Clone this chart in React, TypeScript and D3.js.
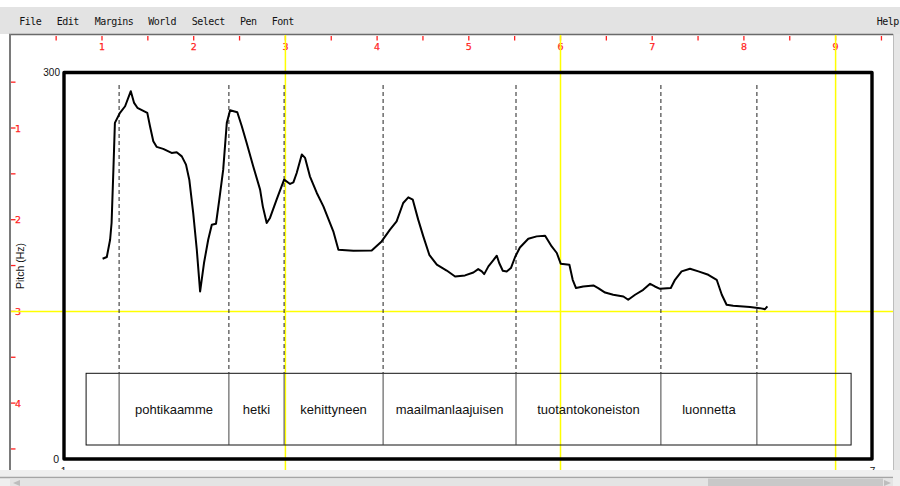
import React from "react";
import * as d3 from "d3";

// Pitch contour (time in s, pitch in Hz)
const pitchTimes = [
  0.132, 0.146, 0.157, 0.162, 0.168, 0.173, 0.19, 0.207, 0.226, 0.237, 0.248, 0.281, 0.29, 0.301, 0.312,
  0.334, 0.362, 0.379, 0.396, 0.41, 0.421, 0.434, 0.446, 0.457, 0.47, 0.484, 0.496, 0.51, 0.521, 0.534,
  0.546, 0.557, 0.581, 0.596, 0.612, 0.634, 0.657, 0.666, 0.679, 0.69, 0.712, 0.737, 0.757, 0.768, 0.779,
  0.796, 0.807, 0.823, 0.846, 0.868, 0.901, 0.918, 0.968, 1.029, 1.062, 1.09, 1.112, 1.134, 1.151, 1.166,
  1.184, 1.201, 1.221, 1.246, 1.279, 1.307, 1.34, 1.368, 1.384, 1.396, 1.404, 1.418, 1.434, 1.446, 1.454,
  1.466, 1.479, 1.493, 1.507, 1.523, 1.551, 1.579, 1.607, 1.629, 1.646, 1.659, 1.688, 1.699, 1.71, 1.734,
  1.768, 1.784, 1.807, 1.834, 1.868, 1.884, 1.907, 1.934, 1.957, 1.973, 1.99, 2.026, 2.04, 2.062, 2.09,
  2.118, 2.151, 2.179, 2.196, 2.212, 2.234, 2.29, 2.323, 2.34, 2.348,
];
const pitchHz = [
  155.4, 156.8, 170.2, 183.4, 224.6, 260.9, 268.7, 273.8, 285.5, 276.4, 272.6, 268.7, 258.3, 246.6, 242.3,
  240.7, 237.6, 238.1, 234.9, 228.5, 216.8, 191.0, 162.4, 130.0, 152.1, 170.2, 181.9, 182.6, 201.3, 224.6,
  260.9, 270.7, 269.1, 258.3, 245.4, 227.2, 209.1, 196.1, 183.2, 187.1, 201.3, 216.8, 213.5, 214.7, 222.0,
  236.3, 233.7, 219.4, 206.5, 196.1, 176.7, 162.4, 161.7, 161.9, 168.9, 178.0, 184.4, 198.7, 203.1, 201.3,
  185.8, 172.8, 158.5, 150.8, 146.3, 141.7, 142.5, 144.8, 147.4, 145.6, 143.5, 149.5, 154.1, 157.8, 152.1,
  146.1, 145.6, 148.2, 156.8, 164.2, 171.0, 172.8, 173.3, 165.0, 159.9, 151.6, 150.8, 139.1, 132.7, 133.9,
  134.7, 132.7, 129.2, 127.5, 126.1, 123.6, 127.5, 131.3, 136.0, 133.9, 132.1, 132.7, 139.1, 145.6, 147.7,
  145.6, 143.0, 139.1, 127.5, 119.7, 118.9, 117.9, 117.1, 116.3, 118.4,
];

// TextGrid tier
const tierStart = 0.077;
const tierEnd = 2.627;
const boundaries = [0.187, 0.553, 0.737, 1.067, 1.51, 1.993, 2.313];
const words = ["", "pohtikaamme", "hetki", "kehittyneen", "maailmanlaajuisen", "tuotantokoneiston", "luonnetta", ""];

const timeDomain = [0, 2.7];
const pitchDomain = [0, 300];
const pitchTickLabels = ["0", "300"];

// Praat picture rulers (inches) and menu
const rulerInchesH = [1, 2, 3, 4, 5, 6, 7, 8, 9];
const rulerInchesV = [1, 2, 3, 4];
const yellowInchesH = [3, 6, 9];
const yellowInchesV = [3];
const menuItems = ["File", "Edit", "Margins", "World", "Select", "Pen", "Font"];
const menuX = [19.3, 56.7, 94.7, 148.3, 191.7, 240, 271.7];

export default function App() {
  const W = 900;
  const H = 486;
  const x = d3.scaleLinear().domain(timeDomain).range([63, 873]);
  const y = d3.scaleLinear().domain(pitchDomain).range([459, 72.5]);
  const inch = d3.scaleLinear().domain([0, 1]).range([10.3, 102]);
  const inchV = d3.scaleLinear().domain([0, 1]).range([36.3, 128]);

  const line = d3
    .line<number>()
    .x((_, i) => x(pitchTimes[i]))
    .y((d) => y(d))
    .curve(d3.curveLinear);

  const halfH = d3.range(0.5, 10, 1);
  const halfV = d3.range(0.5, 5, 1);

  const allB = [tierStart, ...boundaries, tierEnd];
  const tierTop = 373.3;
  const tierBot = 445;
  const red = "#ff1f1f";

  return (
    <svg width={W} height={H} style={{ position: "absolute", left: 0, top: 0 }}>
      <rect x={0} y={0} width={W} height={H} fill="#ffffff" />
      {/* menu bar */}
      <rect x={0} y={7} width={W} height={27} fill="#e3e3e3" />
      {menuItems.map((m, i) => (
        <text key={m} x={menuX[i]} y={25} fontFamily="DejaVu Sans Mono" fontSize={10} letterSpacing={-0.5} fill="#111">
          {m}
        </text>
      ))}
      <text x={876.7} y={25} fontFamily="DejaVu Sans Mono" fontSize={10} letterSpacing={-0.5} fill="#111">
        Help
      </text>
      <line x1={9} x2={893} y1={34.5} y2={34.5} stroke="#6a6a6a" strokeWidth={1.5} />
      <line x1={10} x2={10} y1={34} y2={470} stroke="#7a7a7a" strokeWidth={2} />
      {/* right strip */}
      <rect x={893} y={34} width={7} height={452} fill="#e6e6e6" />
      <line x1={893.5} x2={893.5} y1={34} y2={478} stroke="#bdbdbd" strokeWidth={1} />

      {/* rulers */}
      {rulerInchesH.map((v) => (
        <g key={"rh" + v}>
          <line x1={inch(v)} x2={inch(v)} y1={36} y2={40.5} stroke={red} strokeWidth={1.3} />
          <text x={inch(v)} y={49.5} textAnchor="middle" fontFamily="DejaVu Sans" fontSize={9.5} fill={red} stroke={red} strokeWidth={0.25}>
            {v}
          </text>
        </g>
      ))}
      {halfH.map((v) => (
        <line key={"hh" + v} x1={inch(v)} x2={inch(v)} y1={36} y2={40.5} stroke={red} strokeWidth={1.3} />
      ))}
      {rulerInchesV.map((v) => (
        <g key={"rv" + v}>
          <line x1={11} x2={15.5} y1={inchV(v)} y2={inchV(v)} stroke={red} strokeWidth={1.3} />
          <text x={15} y={inchV(v) + 3.5} fontFamily="DejaVu Sans" fontSize={9.5} fill={red} stroke={red} strokeWidth={0.25}>
            {v}
          </text>
        </g>
      ))}
      {halfV.map((v) => (
        <line key={"hv" + v} x1={11} x2={15.5} y1={inchV(v)} y2={inchV(v)} stroke={red} strokeWidth={1.3} />
      ))}

      {/* yellow selection lines */}
      {yellowInchesH.map((v) => (
        <line key={"yh" + v} x1={inch(v)} x2={inch(v)} y1={35} y2={470} stroke="#ffff00" strokeWidth={1.5} />
      ))}
      {yellowInchesV.map((v) => (
        <line key={"yv" + v} x1={11} x2={893} y1={inchV(v)} y2={inchV(v)} stroke="#ffff00" strokeWidth={1.5} />
      ))}

      {/* dashed boundary lines */}
      {boundaries.map((b) => (
        <line
          key={"db" + b}
          x1={x(b)}
          x2={x(b)}
          y1={85}
          y2={tierTop}
          stroke="#222"
          strokeWidth={1}
          strokeDasharray="4 3"
        />
      ))}

      {/* tier box */}
      <rect x={x(tierStart)} y={tierTop} width={x(tierEnd) - x(tierStart)} height={tierBot - tierTop} fill="none" stroke="#111" strokeWidth={1} />
      {boundaries.map((b) => (
        <line key={"tb" + b} x1={x(b)} x2={x(b)} y1={tierTop} y2={tierBot} stroke="#444" strokeWidth={1} />
      ))}
      {words.map((w, i) => (
        <text
          key={"w" + i}
          x={(x(allB[i]) + x(allB[i + 1])) / 2}
          y={414}
          textAnchor="middle"
          fontFamily="Liberation Sans"
          fontSize={13}
          fill="#111"
        >
          {w}
        </text>
      ))}

      {/* pitch contour */}
      <path d={line(pitchHz) || ""} fill="none" stroke="#000" strokeWidth={2} strokeLinejoin="round" />

      {/* frame */}
      <rect x={64} y={72.5} width={808} height={386.5} fill="none" stroke="#000" strokeWidth={3.4} strokeLinejoin="round" />
      <text x={60} y={y(300) + 3.5} textAnchor="end" fontFamily="Liberation Sans" fontSize={10} fill="#111">
        {pitchTickLabels[1]}
      </text>
      <text x={59} y={y(0) + 4} textAnchor="end" fontFamily="Liberation Sans" fontSize={10.5} fill="#111">
        {pitchTickLabels[0]}
      </text>
      <text
        transform={`translate(24, 266) rotate(-90)`}
        textAnchor="middle"
        fontFamily="Liberation Sans"
        fontSize={10.5}
        fill="#111"
      >
        Pitch (Hz)
      </text>
      <text x={63.5} y={475} textAnchor="middle" fontFamily="Liberation Sans" fontSize={10} fill="#111">
        1
      </text>
      <text x={872.5} y={475} textAnchor="middle" fontFamily="Liberation Sans" fontSize={10} fill="#111">
        7
      </text>

      {/* bottom scrollbar */}
      <rect x={0} y={470} width={W} height={16} fill="#efefef" />
      <line x1={0} x2={893} y1={477.5} y2={477.5} stroke="#a5a5a5" strokeWidth={1.5} />
      <rect x={10} y={478.5} width={883} height={7.5} fill="#e4e4e4" />
      <rect x={708} y={478.5} width={175} height={7.5} fill="#c8c8c8" />
      <path d="M20,480 L13,483 L20,486 Z" fill="#bdbdbd" />
      <path d="M884,480 L891,483 L884,486 Z" fill="#bdbdbd" />
    </svg>
  );
}
